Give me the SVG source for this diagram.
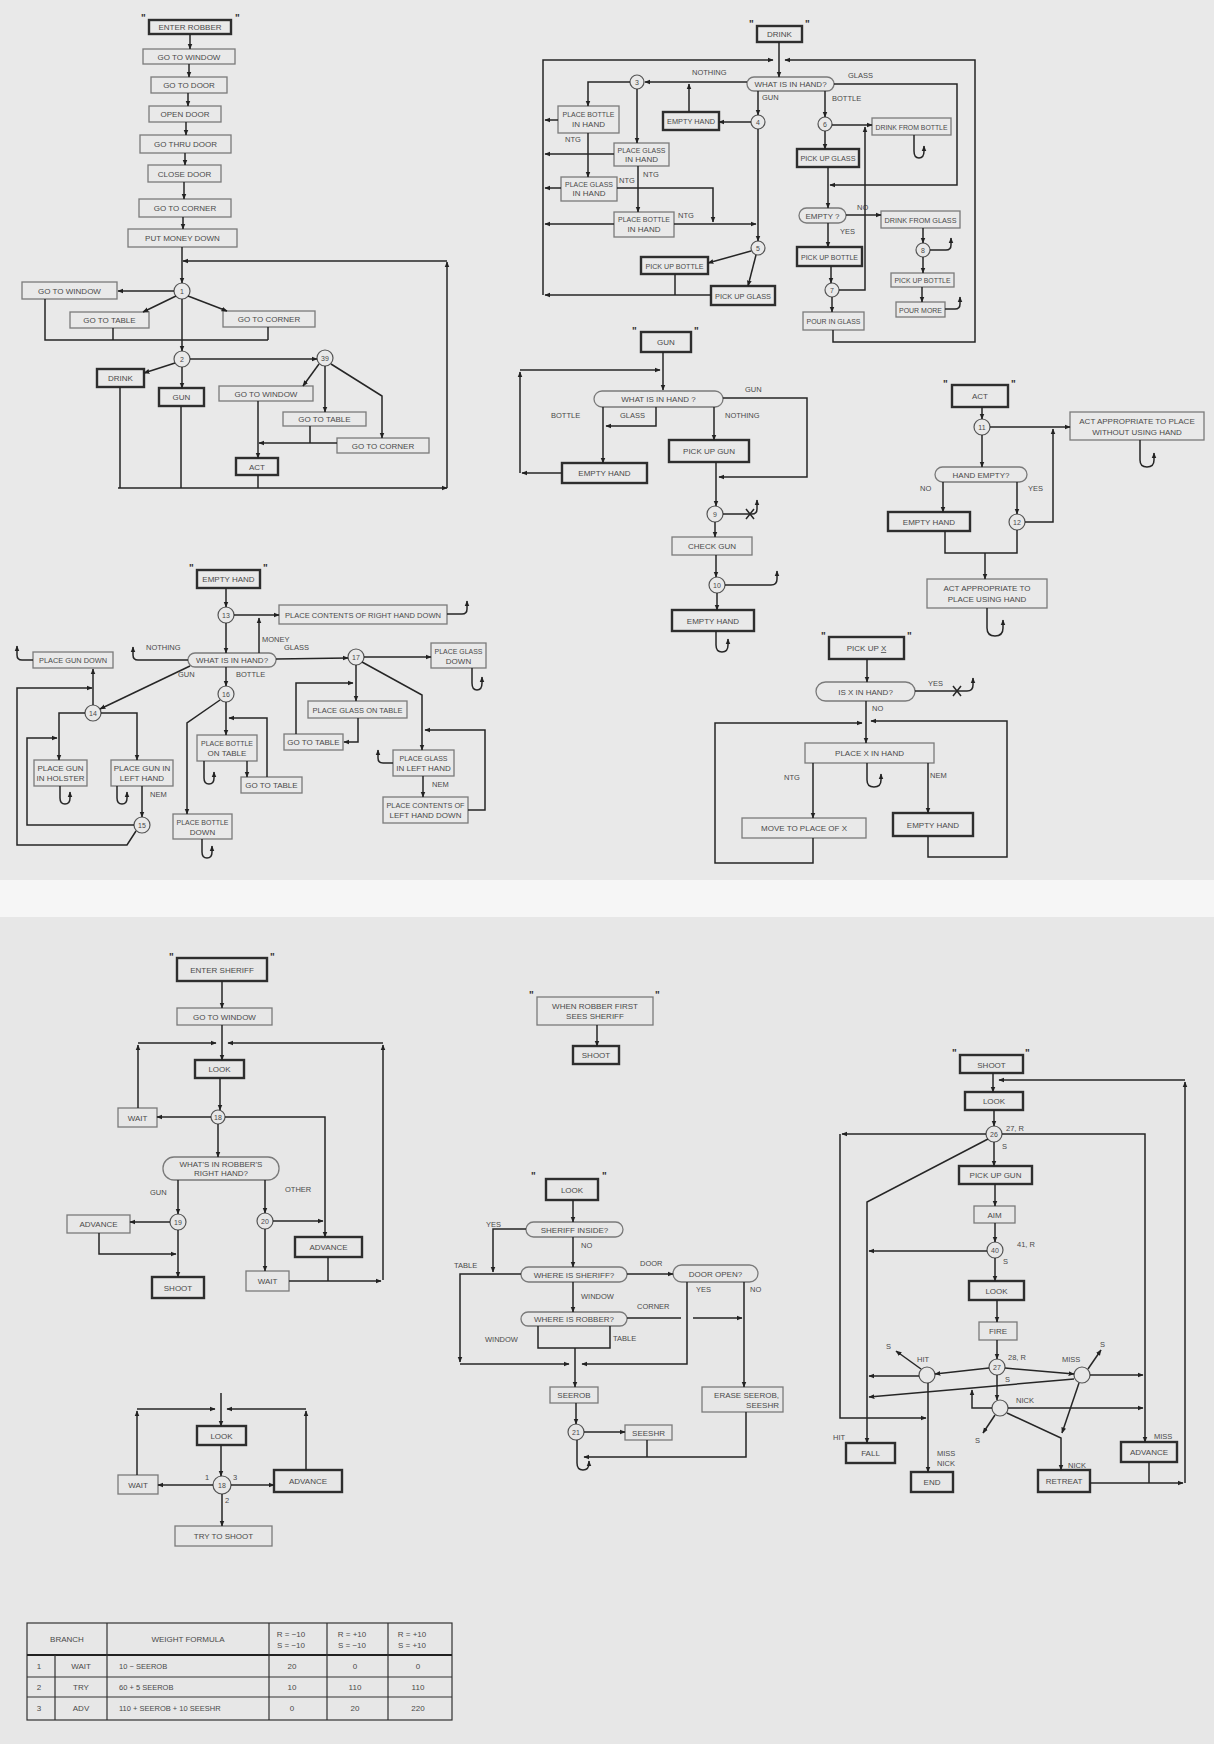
<svg xmlns="http://www.w3.org/2000/svg" width="1214" height="1744" viewBox="0 0 1214 1744">
<defs>
<marker id="ar" viewBox="0 0 10 10" refX="9" refY="5" markerWidth="6" markerHeight="6" orient="auto" markerUnits="userSpaceOnUse"><path d="M0,1 L10,5 L0,9 z" fill="#222"/></marker>
<style>
.b{fill:none;stroke:#7a7a7a;stroke-width:1.3}
.k{fill:none;stroke:#2e2e2e;stroke-width:2.4}
.c{fill:none;stroke:#555;stroke-width:1.2}
.t{font-family:"Liberation Sans",Arial,sans-serif;font-size:8px;fill:#4a4a4a;text-anchor:middle}
.e{font-family:"Liberation Sans",Arial,sans-serif;font-size:8px;fill:#4a4a4a;text-anchor:end}
.l{font-family:"Liberation Sans",Arial,sans-serif;font-size:7.5px;fill:#4a4a4a}
.n{font-family:"Liberation Sans",Arial,sans-serif;font-size:7px;fill:#4a4a4a;text-anchor:middle}
.q{font-family:"Liberation Sans",Arial,sans-serif;font-size:10px;font-weight:bold;fill:#333}
.w{fill:none;stroke:#262626;stroke-width:1.5}
.a{marker-end:url(#ar)}
.g{fill:none;stroke:#333;stroke-width:1.2}
.g2{fill:none;stroke:#222;stroke-width:2}
</style>
</defs>
<rect width="1214" height="1744" fill="#f6f6f6"/>
<rect x="0" y="0" width="1214" height="880" fill="#e9e9e9"/>
<rect x="0" y="917" width="1214" height="827" fill="#e7e7e7"/>

<!-- ROBBER MAIN -->
<g id="enter-robber"><text class="q" x="141" y="22">"</text><text class="q" x="235" y="22">"</text><rect class="k" x="149" y="20" width="82" height="14"/><text class="t" x="190" y="30">ENTER ROBBER</text></g>
<g id="r-go-window-1"><rect class="b" x="143" y="49" width="92" height="15"/><text class="t" x="189" y="60">GO TO WINDOW</text></g>
<g id="r-go-door"><rect class="b" x="151" y="77" width="76" height="16"/><text class="t" x="189" y="88">GO TO DOOR</text></g>
<g id="r-open-door"><rect class="b" x="149" y="106" width="72" height="16"/><text class="t" x="185" y="117">OPEN DOOR</text></g>
<g id="r-go-thru-door"><rect class="b" x="140" y="135" width="91" height="18"/><text class="t" x="185.5" y="147">GO THRU DOOR</text></g>
<g id="r-close-door"><rect class="b" x="148" y="165" width="73" height="17"/><text class="t" x="184.5" y="176.5">CLOSE DOOR</text></g>
<g id="r-go-corner-1"><rect class="b" x="139" y="199" width="92" height="18"/><text class="t" x="185" y="211">GO TO CORNER</text></g>
<g id="r-put-money"><rect class="b" x="128" y="229" width="109" height="18"/><text class="t" x="182.5" y="241">PUT MONEY DOWN</text></g>
<g id="r-c1"><circle class="c" cx="182" cy="291" r="8"/><text class="n" x="182" y="293.5">1</text></g>
<g id="r-go-window-2"><rect class="b" x="22" y="282" width="95" height="17"/><text class="t" x="69.5" y="293.5">GO TO WINDOW</text></g>
<g id="r-go-table-1"><rect class="b" x="70" y="312" width="79" height="16"/><text class="t" x="109.5" y="323">GO TO TABLE</text></g>
<g id="r-go-corner-2"><rect class="b" x="223" y="311" width="92" height="16"/><text class="t" x="269" y="322">GO TO CORNER</text></g>
<g id="r-c2"><circle class="c" cx="182" cy="359" r="8"/><text class="n" x="182" y="361.5">2</text></g>
<g id="r-c39"><circle class="c" cx="325" cy="358" r="8"/><text class="n" x="325" y="360.5">39</text></g>
<g id="r-drink"><rect class="k" x="97" y="369" width="47" height="18"/><text class="t" x="120.5" y="381">DRINK</text></g>
<g id="r-gun"><rect class="k" x="159" y="388" width="45" height="18"/><text class="t" x="181.5" y="400">GUN</text></g>
<g id="r-go-window-3"><rect class="b" x="219" y="386" width="94" height="15"/><text class="t" x="266" y="396.5">GO TO WINDOW</text></g>
<g id="r-go-table-2"><rect class="b" x="283" y="412" width="83" height="14"/><text class="t" x="324.5" y="422">GO TO TABLE</text></g>
<g id="r-go-corner-3"><rect class="b" x="337" y="438" width="92" height="15"/><text class="t" x="383" y="448.5">GO TO CORNER</text></g>
<g id="r-act"><rect class="k" x="236" y="458" width="42" height="17"/><text class="t" x="257" y="469.5">ACT</text></g>

<!-- DRINK -->
<g id="drink-head"><text class="q" x="749" y="28">"</text><text class="q" x="805" y="28">"</text><rect class="k" x="757" y="26" width="45" height="16"/><text class="t" x="779.5" y="37">DRINK</text></g>
<g id="d-what"><rect class="b" x="747" y="77" width="87" height="14" rx="7"/><text class="t" x="790.5" y="87">WHAT IS IN HAND?</text></g>
<g id="d-c3"><circle class="c" cx="637" cy="82" r="7"/><text class="n" x="637" y="84.5">3</text></g>
<g id="d-empty-hand"><rect class="k" x="663" y="112" width="56" height="18"/><text class="t" x="691" y="124" textLength="48" lengthAdjust="spacingAndGlyphs">EMPTY HAND</text></g>
<g id="d-c4"><circle class="c" cx="758" cy="122" r="7"/><text class="n" x="758" y="124.5">4</text></g>
<g id="d-place-bottle-1"><rect class="b" x="558" y="106" width="61" height="27"/><text class="t" x="588.5" y="117" textLength="52" lengthAdjust="spacingAndGlyphs">PLACE BOTTLE</text><text class="t" x="588.5" y="127">IN HAND</text></g>
<g id="d-place-glass-1"><rect class="b" x="614" y="143" width="55" height="23"/><text class="t" x="641.5" y="152.5" textLength="48" lengthAdjust="spacingAndGlyphs">PLACE GLASS</text><text class="t" x="641.5" y="162">IN HAND</text></g>
<g id="d-place-glass-2"><rect class="b" x="561" y="177" width="56" height="24"/><text class="t" x="589" y="186.5" textLength="48" lengthAdjust="spacingAndGlyphs">PLACE GLASS</text><text class="t" x="589" y="196">IN HAND</text></g>
<g id="d-place-bottle-2"><rect class="b" x="614" y="212" width="60" height="25"/><text class="t" x="644" y="222" textLength="52" lengthAdjust="spacingAndGlyphs">PLACE BOTTLE</text><text class="t" x="644" y="232">IN HAND</text></g>
<g id="d-c5"><circle class="c" cx="758" cy="248" r="7"/><text class="n" x="758" y="250.5">5</text></g>
<g id="d-pick-bottle-1"><rect class="k" x="641" y="257" width="67" height="17"/><text class="t" x="674.5" y="268.5" textLength="58" lengthAdjust="spacingAndGlyphs">PICK UP BOTTLE</text></g>
<g id="d-pick-glass-1"><rect class="k" x="711" y="286" width="64" height="19"/><text class="t" x="743" y="298.5" textLength="56" lengthAdjust="spacingAndGlyphs">PICK UP GLASS</text></g>
<g id="d-c6"><circle class="c" cx="825" cy="124" r="7"/><text class="n" x="825" y="126.5">6</text></g>
<g id="d-drink-bottle"><rect class="b" x="872" y="118" width="79" height="17"/><text class="t" x="911.5" y="129.5" textLength="72" lengthAdjust="spacingAndGlyphs">DRINK FROM BOTTLE</text></g>
<g id="d-pick-glass-2"><rect class="k" x="797" y="149" width="62" height="18"/><text class="t" x="828" y="161" textLength="55" lengthAdjust="spacingAndGlyphs">PICK UP GLASS</text></g>
<g id="d-empty-q"><rect class="b" x="799" y="208" width="47" height="15" rx="7.5"/><text class="t" x="822.5" y="218.5">EMPTY ?</text></g>
<g id="d-drink-glass"><rect class="b" x="881" y="211" width="79" height="17"/><text class="t" x="920.5" y="222.5" textLength="72" lengthAdjust="spacingAndGlyphs">DRINK FROM GLASS</text></g>
<g id="d-pick-bottle-2"><rect class="k" x="797" y="247" width="65" height="19"/><text class="t" x="829.5" y="259.5" textLength="57" lengthAdjust="spacingAndGlyphs">PICK UP BOTTLE</text></g>
<g id="d-c7"><circle class="c" cx="832" cy="290" r="7"/><text class="n" x="832" y="292.5">7</text></g>
<g id="d-pour-glass"><rect class="b" x="803" y="312" width="61" height="18"/><text class="t" x="833.5" y="324" textLength="54" lengthAdjust="spacingAndGlyphs">POUR IN GLASS</text></g>
<g id="d-c8"><circle class="c" cx="923" cy="250" r="7"/><text class="n" x="923" y="252.5">8</text></g>
<g id="d-pick-bottle-3"><rect class="b" x="891" y="273" width="63" height="14"/><text class="t" x="922.5" y="283" textLength="56" lengthAdjust="spacingAndGlyphs">PICK UP BOTTLE</text></g>
<g id="d-pour-more"><rect class="b" x="896" y="302" width="49" height="15"/><text class="t" x="920.5" y="312.5" textLength="43" lengthAdjust="spacingAndGlyphs">POUR MORE</text></g>
<g id="d-labels"><text class="l" x="692" y="75">NOTHING</text><text class="l" x="848" y="78">GLASS</text><text class="l" x="762" y="100">GUN</text><text class="l" x="832" y="101">BOTTLE</text><text class="l" x="565" y="142">NTG</text><text class="l" x="643" y="177">NTG</text><text class="l" x="619" y="183">NTG</text><text class="l" x="678" y="218">NTG</text><text class="l" x="857" y="210">NO</text><text class="l" x="840" y="234">YES</text></g>

<!-- GUN -->
<g id="gun-head"><text class="q" x="632" y="335">"</text><text class="q" x="694" y="335">"</text><rect class="k" x="641" y="332" width="50" height="20"/><text class="t" x="666" y="345">GUN</text></g>
<g id="g-what"><rect class="b" x="594" y="391" width="129" height="16" rx="8"/><text class="t" x="658.5" y="402">WHAT IS IN HAND ?</text></g>
<g id="g-empty-hand"><rect class="k" x="562" y="463" width="85" height="20"/><text class="t" x="604.5" y="476">EMPTY HAND</text></g>
<g id="g-pick-gun"><rect class="k" x="669" y="440" width="80" height="22"/><text class="t" x="709" y="454">PICK UP GUN</text></g>
<g id="g-c9"><circle class="c" cx="715" cy="514" r="8"/><text class="n" x="715" y="516.5">9</text></g>
<g id="g-check-gun"><rect class="b" x="672" y="537" width="80" height="18"/><text class="t" x="712" y="549">CHECK GUN</text></g>
<g id="g-c10"><circle class="c" cx="717" cy="585" r="8"/><text class="n" x="717" y="587.5">10</text></g>
<g id="g-empty-hand-2"><rect class="k" x="672" y="610" width="82" height="21"/><text class="t" x="713" y="623.5">EMPTY HAND</text></g>
<g id="g-labels"><text class="l" x="745" y="392">GUN</text><text class="l" x="551" y="418">BOTTLE</text><text class="l" x="620" y="418">GLASS</text><text class="l" x="725" y="418">NOTHING</text></g>

<!-- ACT -->
<g id="act-head"><text class="q" x="943" y="388">"</text><text class="q" x="1011" y="388">"</text><rect class="k" x="952" y="385" width="56" height="22"/><text class="t" x="980" y="399">ACT</text></g>
<g id="a-c11"><circle class="c" cx="982" cy="427" r="8"/><text class="n" x="982" y="429.5">11</text></g>
<g id="a-without"><rect class="b" x="1070" y="412" width="134" height="28"/><text class="t" x="1137" y="424">ACT APPROPRIATE TO PLACE</text><text class="t" x="1137" y="435">WITHOUT USING HAND</text></g>
<g id="a-hand-empty"><rect class="b" x="935" y="467" width="92" height="15" rx="7.5"/><text class="t" x="981" y="477.5">HAND EMPTY?</text></g>
<g id="a-empty-hand"><rect class="k" x="888" y="512" width="82" height="19"/><text class="t" x="929" y="524.5">EMPTY HAND</text></g>
<g id="a-c12"><circle class="c" cx="1017" cy="522" r="8"/><text class="n" x="1017" y="524.5">12</text></g>
<g id="a-using"><rect class="b" x="927" y="579" width="120" height="29"/><text class="t" x="987" y="591">ACT APPROPRIATE TO</text><text class="t" x="987" y="602">PLACE USING HAND</text></g>
<g id="a-labels"><text class="l" x="920" y="491">NO</text><text class="l" x="1028" y="491">YES</text></g>

<!-- EMPTY HAND -->
<g id="eh-head"><text class="q" x="189" y="572">"</text><text class="q" x="263" y="572">"</text><rect class="k" x="197" y="570" width="63" height="18"/><text class="t" x="228.5" y="582">EMPTY HAND</text></g>
<g id="e-c13"><circle class="c" cx="226" cy="615" r="8"/><text class="n" x="226" y="617.5">13</text></g>
<g id="e-place-right"><rect class="b" x="279" y="605" width="168" height="19"/><text class="t" x="363" y="617.5" textLength="156" lengthAdjust="spacingAndGlyphs">PLACE CONTENTS OF RIGHT HAND DOWN</text></g>
<g id="e-what"><rect class="b" x="188" y="653" width="88" height="14" rx="7"/><text class="t" x="232" y="663">WHAT IS IN HAND?</text></g>
<g id="e-gun-down"><rect class="b" x="33" y="652" width="80" height="16"/><text class="t" x="73" y="663" textLength="68" lengthAdjust="spacingAndGlyphs">PLACE GUN DOWN</text></g>
<g id="e-c14"><circle class="c" cx="93" cy="713" r="8"/><text class="n" x="93" y="715.5">14</text></g>
<g id="e-holster"><rect class="b" x="34" y="760" width="53" height="26"/><text class="t" x="60.5" y="771">PLACE GUN</text><text class="t" x="60.5" y="781">IN HOLSTER</text></g>
<g id="e-gun-left"><rect class="b" x="111" y="760" width="62" height="26"/><text class="t" x="142" y="771">PLACE GUN IN</text><text class="t" x="142" y="781">LEFT HAND</text></g>
<g id="e-c15"><circle class="c" cx="142" cy="825" r="8"/><text class="n" x="142" y="827.5">15</text></g>
<g id="e-c16"><circle class="c" cx="226" cy="694" r="8"/><text class="n" x="226" y="696.5">16</text></g>
<g id="e-bottle-table"><rect class="b" x="197" y="735" width="60" height="26"/><text class="t" x="227" y="746" textLength="52" lengthAdjust="spacingAndGlyphs">PLACE BOTTLE</text><text class="t" x="227" y="756">ON TABLE</text></g>
<g id="e-go-table-1"><rect class="b" x="241" y="777" width="61" height="16"/><text class="t" x="271.5" y="788">GO TO TABLE</text></g>
<g id="e-bottle-down"><rect class="b" x="173" y="814" width="59" height="25"/><text class="t" x="202.5" y="824.5" textLength="52" lengthAdjust="spacingAndGlyphs">PLACE BOTTLE</text><text class="t" x="202.5" y="834.5">DOWN</text></g>
<g id="e-c17"><circle class="c" cx="356" cy="657" r="8"/><text class="n" x="356" y="659.5">17</text></g>
<g id="e-glass-down"><rect class="b" x="431" y="643" width="55" height="25"/><text class="t" x="458.5" y="653.5" textLength="48" lengthAdjust="spacingAndGlyphs">PLACE GLASS</text><text class="t" x="458.5" y="663.5">DOWN</text></g>
<g id="e-glass-table"><rect class="b" x="308" y="701" width="99" height="17"/><text class="t" x="357.5" y="712.5" textLength="90" lengthAdjust="spacingAndGlyphs">PLACE GLASS ON TABLE</text></g>
<g id="e-go-table-2"><rect class="b" x="284" y="734" width="59" height="16"/><text class="t" x="313.5" y="745">GO TO TABLE</text></g>
<g id="e-glass-left"><rect class="b" x="393" y="750" width="61" height="26"/><text class="t" x="423.5" y="760.5" textLength="48" lengthAdjust="spacingAndGlyphs">PLACE GLASS</text><text class="t" x="423.5" y="770.5">IN LEFT HAND</text></g>
<g id="e-contents-left"><rect class="b" x="383" y="797" width="85" height="26"/><text class="t" x="425.5" y="807.5" textLength="78" lengthAdjust="spacingAndGlyphs">PLACE CONTENTS OF</text><text class="t" x="425.5" y="817.5">LEFT HAND DOWN</text></g>
<g id="e-labels"><text class="l" x="262" y="642">MONEY</text><text class="l" x="284" y="650">GLASS</text><text class="l" x="146" y="650">NOTHING</text><text class="l" x="178" y="677">GUN</text><text class="l" x="236" y="677">BOTTLE</text><text class="l" x="150" y="797">NEM</text><text class="l" x="432" y="787">NEM</text></g>

<!-- PICK UP X -->
<g id="pickx-head"><text class="q" x="821" y="640">"</text><text class="q" x="907" y="640">"</text><rect class="k" x="829" y="637" width="75" height="22"/><text class="t" x="866.5" y="651">PICK UP <tspan text-decoration="underline">X</tspan></text></g>
<g id="x-is-x"><rect class="b" x="816" y="682" width="99" height="19" rx="9.5"/><text class="t" x="865.5" y="694.5">IS X IN HAND?</text></g>
<g id="x-place-x"><rect class="b" x="805" y="743" width="129" height="20"/><text class="t" x="869.5" y="756">PLACE X IN HAND</text></g>
<g id="x-move"><rect class="b" x="742" y="818" width="124" height="20"/><text class="t" x="804" y="831">MOVE TO PLACE OF X</text></g>
<g id="x-empty-hand"><rect class="k" x="893" y="813" width="80" height="23"/><text class="t" x="933" y="827.5">EMPTY HAND</text></g>
<g id="x-labels"><text class="l" x="928" y="686">YES</text><text class="l" x="872" y="711">NO</text><text class="l" x="784" y="780">NTG</text><text class="l" x="930" y="778">NEM</text></g>

<!-- SHERIFF -->
<g id="enter-sheriff"><text class="q" x="169" y="961">"</text><text class="q" x="270" y="961">"</text><rect class="k" x="177" y="958" width="90" height="23"/><text class="t" x="222" y="972.5">ENTER SHERIFF</text></g>
<g id="s-go-window"><rect class="b" x="177" y="1008" width="95" height="17"/><text class="t" x="224.5" y="1019.5">GO TO WINDOW</text></g>
<g id="s-look"><rect class="k" x="195" y="1060" width="49" height="18"/><text class="t" x="219.5" y="1072">LOOK</text></g>
<g id="s-c18"><circle class="c" cx="218" cy="1117" r="7"/><text class="n" x="218" y="1119.5">18</text></g>
<g id="s-wait-1"><rect class="b" x="118" y="1108" width="39" height="19"/><text class="t" x="137.5" y="1120.5">WAIT</text></g>
<g id="s-robber-hand"><rect class="b" x="163" y="1157" width="116" height="23" rx="11"/><text class="t" x="221" y="1166.5">WHAT'S IN ROBBER'S</text><text class="t" x="221" y="1176">RIGHT HAND?</text></g>
<g id="s-c19"><circle class="c" cx="178" cy="1222" r="8"/><text class="n" x="178" y="1224.5">19</text></g>
<g id="s-advance-1"><rect class="b" x="67" y="1215" width="63" height="18"/><text class="t" x="98.5" y="1227">ADVANCE</text></g>
<g id="s-shoot"><rect class="k" x="152" y="1277" width="52" height="21"/><text class="t" x="178" y="1290.5">SHOOT</text></g>
<g id="s-c20"><circle class="c" cx="265" cy="1221" r="8"/><text class="n" x="265" y="1223.5">20</text></g>
<g id="s-advance-2"><rect class="k" x="295" y="1237" width="67" height="20"/><text class="t" x="328.5" y="1250">ADVANCE</text></g>
<g id="s-wait-2"><rect class="b" x="246" y="1271" width="43" height="20"/><text class="t" x="267.5" y="1284">WAIT</text></g>
<g id="s-labels"><text class="l" x="150" y="1195">GUN</text><text class="l" x="285" y="1192">OTHER</text></g>

<!-- WHEN ROBBER FIRST SEES SHERIFF -->
<g id="when-robber"><text class="q" x="529" y="999">"</text><text class="q" x="655" y="999">"</text><rect class="b" x="537" y="997" width="116" height="28"/><text class="t" x="595" y="1008.5">WHEN ROBBER FIRST</text><text class="t" x="595" y="1019">SEES SHERIFF</text></g>
<g id="w-shoot"><rect class="k" x="573" y="1046" width="46" height="18"/><text class="t" x="596" y="1058">SHOOT</text></g>

<!-- LOOK (robber) -->
<g id="look-head"><text class="q" x="531" y="1180">"</text><text class="q" x="602" y="1180">"</text><rect class="k" x="546" y="1179" width="52" height="21"/><text class="t" x="572" y="1192.5">LOOK</text></g>
<g id="l-sheriff-inside"><rect class="b" x="526" y="1222" width="97" height="15" rx="7.5"/><text class="t" x="574.5" y="1232.5">SHERIFF INSIDE?</text></g>
<g id="l-where-sheriff"><rect class="b" x="521" y="1267" width="106" height="15" rx="7.5"/><text class="t" x="574" y="1277.5">WHERE IS SHERIFF?</text></g>
<g id="l-door-open"><rect class="b" x="673" y="1265" width="85" height="17" rx="8.5"/><text class="t" x="715.5" y="1276.5">DOOR OPEN?</text></g>
<g id="l-where-robber"><rect class="b" x="521" y="1312" width="106" height="14" rx="7"/><text class="t" x="574" y="1322">WHERE IS ROBBER?</text></g>
<g id="l-seerob"><rect class="b" x="550" y="1387" width="48" height="16"/><text class="t" x="574" y="1398">SEEROB</text></g>
<g id="l-erase"><rect class="b" x="702" y="1387" width="81" height="25"/><text class="e" x="779" y="1397.5">ERASE SEEROB,</text><text class="e" x="779" y="1407.5">SEESHR</text></g>
<g id="l-c21"><circle class="c" cx="576" cy="1432" r="8"/><text class="n" x="576" y="1434.5">21</text></g>
<g id="l-seeshr"><rect class="b" x="625" y="1425" width="47" height="15"/><text class="t" x="648.5" y="1435.5">SEESHR</text></g>
<g id="l-labels"><text class="l" x="486" y="1227">YES</text><text class="l" x="581" y="1248">NO</text><text class="l" x="454" y="1268">TABLE</text><text class="l" x="640" y="1266">DOOR</text><text class="l" x="581" y="1299">WINDOW</text><text class="l" x="637" y="1309">CORNER</text><text class="l" x="696" y="1292">YES</text><text class="l" x="750" y="1292">NO</text><text class="l" x="485" y="1342">WINDOW</text><text class="l" x="613" y="1341">TABLE</text></g>

<!-- SHOOT -->
<g id="shoot-head"><text class="q" x="952" y="1057">"</text><text class="q" x="1025" y="1057">"</text><rect class="k" x="960" y="1055" width="63" height="18"/><text class="t" x="991.5" y="1067.5">SHOOT</text></g>
<g id="h-look-1"><rect class="k" x="965" y="1092" width="58" height="18"/><text class="t" x="994" y="1104">LOOK</text></g>
<g id="h-c26"><circle class="c" cx="994" cy="1134" r="8"/><text class="n" x="994" y="1136.5">26</text><text class="l" x="1006" y="1131">27, R</text><text class="l" x="1002" y="1149">S</text></g>
<g id="h-pick-gun"><rect class="k" x="959" y="1166" width="73" height="18"/><text class="t" x="995.5" y="1178">PICK UP GUN</text></g>
<g id="h-aim"><rect class="b" x="974" y="1206" width="41" height="17"/><text class="t" x="994.5" y="1217.5">AIM</text></g>
<g id="h-c40"><circle class="c" cx="995" cy="1250" r="8"/><text class="n" x="995" y="1252.5">40</text><text class="l" x="1017" y="1247">41, R</text><text class="l" x="1003" y="1264">S</text></g>
<g id="h-look-2"><rect class="k" x="969" y="1281" width="55" height="19"/><text class="t" x="996.5" y="1293.5">LOOK</text></g>
<g id="h-fire"><rect class="b" x="979" y="1322" width="38" height="18"/><text class="t" x="998" y="1334">FIRE</text></g>
<g id="h-c27"><circle class="c" cx="997" cy="1367" r="8"/><text class="n" x="997" y="1369.5">27</text><text class="l" x="1008" y="1360">28, R</text><text class="l" x="1005" y="1382">S</text></g>
<g id="h-hit"><circle class="c" cx="927" cy="1375" r="8"/><text class="l" x="917" y="1362">HIT</text><text class="l" x="886" y="1349">S</text></g>
<g id="h-miss"><circle class="c" cx="1082" cy="1375" r="8"/><text class="l" x="1062" y="1362">MISS</text><text class="l" x="1100" y="1347">S</text></g>
<g id="h-nick"><circle class="c" cx="1000" cy="1408" r="8"/><text class="l" x="1016" y="1403">NICK</text><text class="l" x="975" y="1443">S</text></g>
<g id="h-fall"><rect class="k" x="846" y="1443" width="49" height="20"/><text class="t" x="870.5" y="1456">FALL</text></g>
<g id="h-end"><rect class="k" x="911" y="1472" width="42" height="20"/><text class="t" x="932" y="1485">END</text></g>
<g id="h-retreat"><rect class="k" x="1038" y="1470" width="52" height="22"/><text class="t" x="1064" y="1484">RETREAT</text></g>
<g id="h-advance"><rect class="k" x="1121" y="1442" width="56" height="20"/><text class="t" x="1149" y="1455">ADVANCE</text></g>
<g id="h-labels"><text class="l" x="833" y="1440">HIT</text><text class="l" x="937" y="1456">MISS</text><text class="l" x="937" y="1466">NICK</text><text class="l" x="1068" y="1468">NICK</text><text class="l" x="1154" y="1439">MISS</text></g>

<!-- SMALL LOOK LOOP -->
<g id="p-look"><rect class="k" x="197" y="1426" width="49" height="19"/><text class="t" x="221.5" y="1438.5">LOOK</text></g>
<g id="p-c18"><circle class="c" cx="222" cy="1485" r="9"/><text class="n" x="222" y="1487.5">18</text><text class="l" x="205" y="1480">1</text><text class="l" x="233" y="1480">3</text><text class="l" x="225" y="1503">2</text></g>
<g id="p-wait"><rect class="b" x="118" y="1475" width="40" height="19"/><text class="t" x="138" y="1487.5">WAIT</text></g>
<g id="p-advance"><rect class="k" x="274" y="1470" width="68" height="22"/><text class="t" x="308" y="1484">ADVANCE</text></g>
<g id="p-try"><rect class="b" x="175" y="1526" width="97" height="20"/><text class="t" x="223.5" y="1539">TRY TO SHOOT</text></g>

<!-- TABLE -->
<g id="weight-table">
<rect class="g" x="27" y="1623" width="425" height="97"/>
<path class="g2" d="M27,1655H452"/>
<path class="g" d="M27,1677H452M27,1697H452M55,1655V1720M107,1623V1720M269,1623V1720M327,1623V1720M388,1623V1720"/>
<text class="t" x="67" y="1642">BRANCH</text>
<text class="t" x="188" y="1642">WEIGHT FORMULA</text>
<text class="t" x="291" y="1637">R = −10</text><text class="t" x="291" y="1648">S = −10</text>
<text class="t" x="352" y="1637">R = +10</text><text class="t" x="352" y="1648">S = −10</text>
<text class="t" x="412" y="1637">R = +10</text><text class="t" x="412" y="1648">S = +10</text>
<text class="t" x="39" y="1669">1</text><text class="t" x="81" y="1669">WAIT</text><text class="l" x="119" y="1669">10  −  SEEROB</text><text class="t" x="292" y="1669">20</text><text class="t" x="355" y="1669">0</text><text class="t" x="418" y="1669">0</text>
<text class="t" x="39" y="1690">2</text><text class="t" x="81" y="1690">TRY</text><text class="l" x="119" y="1690">60  +  5 SEEROB</text><text class="t" x="292" y="1690">10</text><text class="t" x="355" y="1690">110</text><text class="t" x="418" y="1690">110</text>
<text class="t" x="39" y="1711">3</text><text class="t" x="81" y="1711">ADV</text><text class="l" x="119" y="1711">110  +  SEEROB  +  10 SEESHR</text><text class="t" x="292" y="1711">0</text><text class="t" x="355" y="1711">20</text><text class="t" x="418" y="1711">220</text>
</g>

<g id="connectors" class="w">
<!-- robber main -->
<path class="a" d="M190,34V49"/><path class="a" d="M189,64V77"/><path class="a" d="M188,93V106"/><path class="a" d="M186,122V135"/><path class="a" d="M185,153V165"/><path class="a" d="M184,182V199"/><path class="a" d="M183,217V229"/><path class="a" d="M182,247V283"/>
<path class="a" d="M118,488H447"/><path class="a" d="M447,488V262"/><path class="a" d="M447,261H183"/>
<path class="a" d="M174,291H118"/><path class="a" d="M176,296L143,312"/><path class="a" d="M188,296L227,311"/><path class="a" d="M182,299V351"/>
<path d="M45,299V340H268M113,328V340M268,327V340"/>
<path class="a" d="M190,359H317"/><path class="a" d="M175,363L144,373"/><path class="a" d="M182,367V388"/>
<path d="M120,387V488M181,406V488"/>
<path class="a" d="M319,364L303,386"/><path class="a" d="M325,366V412"/><path class="a" d="M331,364L382,396V438"/>
<path class="a" d="M337,443H259"/><path d="M310,426V443"/><path class="a" d="M258,401V458"/><path d="M258,475V488"/>
<!-- drink -->
<path class="a" d="M779,42V77"/>
<path class="a" d="M833,330V342H975V60H785"/><path class="a" d="M543,295V60H773"/>
<path class="a" d="M558,120H545"/><path class="a" d="M614,154H545"/><path class="a" d="M561,188H545"/><path class="a" d="M614,224H545"/><path class="a" d="M711,295H545"/>
<path class="a" d="M747,82H645"/><path class="a" d="M630,82H588V106"/><path class="a" d="M637,89V143"/><path class="a" d="M689,112V84"/>
<path class="a" d="M758,91V115"/><path class="a" d="M751,122H719"/><path class="a" d="M758,129V241"/>
<path class="a" d="M588,133V177"/><path class="a" d="M638,166V212"/><path class="a" d="M617,188H713V222"/><path class="a" d="M674,224H756"/>
<path class="a" d="M751,251L708,263"/><path class="a" d="M756,255L748,286"/><path d="M675,274V295"/>
<path class="a" d="M825,91V117"/><path class="a" d="M832,125H872"/><path class="a" d="M825,131V149"/>
<path class="a" d="M914,135V151q0,7 5,7q5,0 5,-7V146"/>
<path class="a" d="M834,84H957V185H830"/>
<path class="a" d="M828,167V208"/><path class="a" d="M846,215H881"/><path class="a" d="M828,223V247"/><path class="a" d="M831,266V283"/>
<path class="a" d="M839,290H865V127"/><path class="a" d="M832,297V312"/>
<path class="a" d="M923,228V243"/><path class="a" d="M930,250H946q5,0 5,-5V238"/><path class="a" d="M923,257V273"/><path class="a" d="M922,287V302"/><path class="a" d="M945,309H955q5,0 5,-5V297"/>
<!-- gun -->
<path class="a" d="M663,352V390"/><path class="a" d="M562,473H522"/><path class="a" d="M520,473V372"/><path class="a" d="M520,370H660"/>
<path class="a" d="M723,398H807V477H719"/><path class="a" d="M603,407V463"/><path class="a" d="M656,407V426H606"/><path class="a" d="M714,407V440"/>
<path class="a" d="M716,462V506"/><path class="a" d="M723,514H752q5,0 5,-5V500"/><path d="M746,509L754,519M746,519L754,509"/>
<path class="a" d="M715,522V537"/><path class="a" d="M716,555V577"/><path class="a" d="M725,585H771q6,0 6,-6V571"/><path class="a" d="M717,593V610"/>
<path class="a" d="M716,631V645q0,7 6,7q6,0 6,-7V639"/>
<!-- act -->
<path class="a" d="M982,407V419"/><path class="a" d="M990,427H1070"/><path class="a" d="M1140,440V460q0,7 7,7q7,0 7,-7V453"/>
<path class="a" d="M982,435V467"/><path class="a" d="M943,482V512"/><path class="a" d="M1017,482V514"/><path class="a" d="M1025,522H1053V429"/>
<path d="M945,531V553H1017V530"/><path class="a" d="M985,553V579"/><path class="a" d="M987,608V628q0,8 8,8q8,0 8,-8V620"/>
<!-- empty hand -->
<path class="a" d="M226,588V607"/><path class="a" d="M234,615H279"/><path class="a" d="M447,614H462q5,0 5,-5V601"/>
<path class="a" d="M226,623V653"/><path class="a" d="M259,653V618"/><path class="a" d="M188,660H138q-5,0 -5,-5V647"/><path class="a" d="M33,660H22q-5,0 -5,-5V646"/>
<path class="a" d="M190,666L100,709"/><path class="a" d="M93,705V669"/><path class="a" d="M136,831L127,845H17V688H92"/>
<path class="a" d="M85,713H59V760"/><path class="a" d="M101,713H137V760"/><path class="a" d="M134,825H27V738H57"/>
<path class="a" d="M60,786V798q0,6 5,6q5,0 5,-6V792"/><path class="a" d="M117,786V798q0,6 5,6q5,0 5,-6V792"/><path class="a" d="M142,786V817"/>
<path class="a" d="M226,667V686"/><path class="a" d="M220,700L187,723V814"/><path class="a" d="M226,702V735"/><path class="a" d="M267,777V718H229"/><path class="a" d="M247,761V777"/>
<path class="a" d="M204,761V778q0,6 5,6q5,0 5,-6V772"/><path class="a" d="M202,839V852q0,6 5,6q5,0 5,-6V846"/>
<path class="a" d="M276,659L348,658"/><path class="a" d="M364,657H431"/><path class="a" d="M472,668V683q0,7 5,7q5,0 5,-7V677"/>
<path class="a" d="M356,665V701"/><path class="a" d="M296,734V683H353"/><path class="a" d="M358,718V742H344"/>
<path class="a" d="M362,662L422,695V750"/><path class="a" d="M468,810H485V730H425"/><path class="a" d="M393,763H383q-5,0 -5,-5V750"/><path class="a" d="M423,776V797"/>
<!-- pick up x -->
<path class="a" d="M867,659V682"/><path class="a" d="M915,691H967q6,0 6,-6V678"/><path d="M953,686L961,696M953,696L961,686"/>
<path class="a" d="M866,701V743"/><path class="a" d="M813,838V863H715V723H862"/><path class="a" d="M928,836V857H1007V721H871"/>
<path class="a" d="M867,763V780q0,7 7,7q7,0 7,-7V774"/><path class="a" d="M813,763V818"/><path class="a" d="M928,763V813"/>
<!-- sheriff -->
<path class="a" d="M222,981V1008"/><path class="a" d="M222,1025V1060"/>
<path class="a" d="M138,1108V1045"/><path class="a" d="M138,1043H216"/><path class="a" d="M383,1280V1045"/><path class="a" d="M383,1043H228"/>
<path class="a" d="M220,1078V1110"/><path class="a" d="M211,1117H157"/><path class="a" d="M225,1117H325V1237"/><path class="a" d="M218,1124V1157"/>
<path class="a" d="M178,1180V1214"/><path class="a" d="M170,1222H130"/><path class="a" d="M99,1233V1254H176"/><path class="a" d="M178,1230V1277"/>
<path class="a" d="M265,1180V1213"/><path class="a" d="M273,1221H323"/><path class="a" d="M265,1229V1271"/><path class="a" d="M289,1281H381"/><path d="M328,1257V1281"/>
<!-- when robber -->
<path class="a" d="M597,1025V1046"/>
<!-- look robber -->
<path class="a" d="M573,1200V1222"/><path class="a" d="M526,1229H493V1272"/><path class="a" d="M573,1237V1267"/><path class="a" d="M521,1274H460V1362"/>
<path class="a" d="M627,1274H673"/><path class="a" d="M573,1282V1312"/><path class="a" d="M627,1318H681M693,1318H742"/>
<path class="a" d="M687,1282V1364H582"/><path class="a" d="M460,1364H569"/><path class="a" d="M744,1282V1387"/>
<path d="M538,1326V1348H610V1326"/><path class="a" d="M575,1348V1387"/>
<path class="a" d="M576,1403V1424"/><path class="a" d="M584,1432H625"/><path class="a" d="M577,1440V1463q0,7 6,7q6,0 6,-7V1461"/>
<path class="a" d="M746,1412V1457H584"/><path d="M647,1440V1457"/>
<!-- shoot -->
<path class="a" d="M993,1073V1092"/><path class="a" d="M1090,1483H1183"/><path class="a" d="M1185,1483V1082"/><path class="a" d="M1185,1080H999"/><path d="M1149,1462V1483"/>
<path class="a" d="M994,1110V1126"/><path class="a" d="M986,1134H842"/><path class="a" d="M840,1134V1418H926"/>
<path class="a" d="M1002,1134H1145V1442"/><path class="a" d="M988,1139L867,1202V1443"/>
<path class="a" d="M994,1142V1166"/><path class="a" d="M995,1184V1206"/><path class="a" d="M995,1223V1242"/><path class="a" d="M987,1251H869"/>
<path class="a" d="M995,1258V1281"/><path class="a" d="M997,1300V1322"/><path class="a" d="M997,1340V1359"/>
<path class="a" d="M989,1368L935,1374"/><path class="a" d="M1005,1368L1074,1374"/><path class="a" d="M997,1375V1400"/>
<path class="a" d="M919,1376H869"/><path class="a" d="M1074,1379L869,1397"/><path class="a" d="M992,1408H972V1390"/>
<path class="a" d="M1008,1408H1143"/><path class="a" d="M1090,1375H1143"/>
<path class="a" d="M1007,1413L1061,1438V1470"/><path class="a" d="M1079,1383L1062,1433"/><path class="a" d="M928,1383V1472"/>
<path class="a" d="M921,1369L896,1351"/><path class="a" d="M1088,1369L1101,1350"/><path class="a" d="M995,1415L983,1433"/>
<!-- small loop -->
<path class="a" d="M221,1393V1426"/><path class="a" d="M137,1475V1411"/><path class="a" d="M137,1409H215"/><path class="a" d="M306,1470V1411"/><path class="a" d="M306,1409H227"/>
<path class="a" d="M221,1445V1476"/><path class="a" d="M213,1485H158"/><path class="a" d="M231,1485H274"/><path class="a" d="M222,1494V1526"/>
</g>
</svg>
